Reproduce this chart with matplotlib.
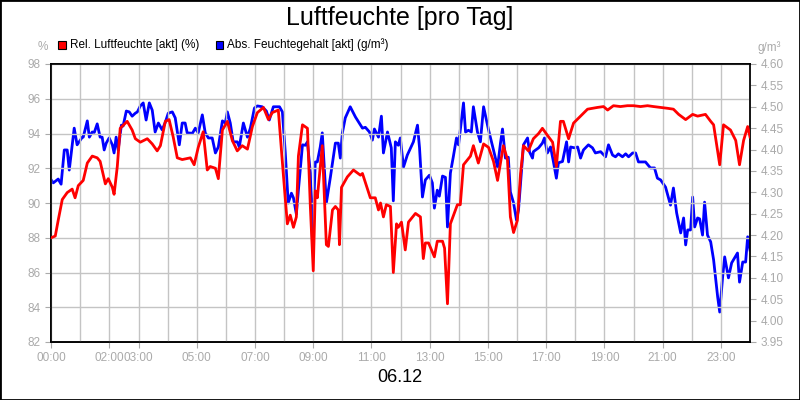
import numpy as np
import matplotlib.pyplot as plt
from matplotlib.patches import Rectangle

plt.rcParams['font.family'] = ['Liberation Sans', 'DejaVu Sans']

# ── Data (hours of day) ───────────────────────────────────────────────────────
rel_h = [0.0, 0.14, 0.24, 0.38, 0.55, 0.72, 0.82, 0.93, 1.10, 1.24, 1.41, 1.58, 1.68, 1.86, 1.96,
         2.10, 2.16, 2.27, 2.37, 2.61, 2.78, 2.89, 3.06, 3.30, 3.47, 3.64, 3.75, 3.92, 4.05, 4.19,
         4.33, 4.50, 4.78, 4.91, 5.05, 5.22, 5.36, 5.46, 5.64, 5.74, 5.88, 6.05, 6.22, 6.39, 6.56,
         6.74, 6.91, 7.08, 7.29, 7.46, 7.59, 7.80, 7.97, 8.11, 8.21, 8.32, 8.42, 8.49, 8.63, 8.80,
         8.90, 9.00, 9.07, 9.14, 9.31, 9.45, 9.52, 9.66, 9.76, 9.86, 9.90, 9.97, 10.17, 10.38,
         10.62, 10.69, 10.96, 11.13, 11.24, 11.31, 11.41, 11.51, 11.65, 11.75, 11.86, 11.92, 12.03,
         12.16, 12.27, 12.51, 12.68, 12.78, 12.85, 12.96, 13.06, 13.16, 13.26, 13.44, 13.51, 13.61,
         13.71, 13.95, 14.05, 14.16, 14.40, 14.50, 14.67, 14.85, 15.02, 15.19, 15.33, 15.53, 15.67,
         15.77, 15.88, 16.01, 16.12, 16.22, 16.39, 16.56, 16.74, 16.87, 17.04, 17.22, 17.35, 17.49,
         17.59, 17.77, 17.94, 18.18, 18.42, 18.76, 18.97, 19.11, 19.31, 19.55, 19.79, 20.0, 20.24,
         20.48, 20.69, 20.93, 21.17, 21.37, 21.55, 21.79, 22.03, 22.20, 22.47, 22.65, 22.75, 22.96,
         23.09, 23.33, 23.51, 23.64, 23.78, 23.92, 24.0]
rel_v = [88.0, 88.1, 89.0, 90.2, 90.6, 90.8, 90.3, 91.0, 91.3, 92.3, 92.7, 92.6, 92.4, 91.1, 91.4,
         90.9, 90.5, 92.1, 94.3, 94.7, 94.2, 93.7, 93.5, 93.7, 93.4, 93.0, 93.3, 94.7, 94.8, 93.8,
         92.6, 92.5, 92.6, 92.2, 93.2, 94.1, 91.9, 92.1, 92.0, 91.4, 94.2, 94.7, 93.6, 93.0, 93.3,
         93.1, 94.4, 95.2, 95.5, 94.8, 95.2, 95.35, 91.7, 88.8, 89.3, 88.6, 89.2, 92.7, 94.5, 94.3,
         89.8, 86.1, 90.7, 90.3, 93.3, 87.6, 87.5, 89.6, 89.8, 89.6, 87.6, 90.9, 91.5, 91.9,
         91.6, 91.7, 90.3, 90.3, 89.6, 90.0, 89.2, 89.9, 89.8, 86.0, 88.8, 88.6, 88.9,
         87.3, 88.9, 89.4, 89.2, 86.8, 87.7, 87.7, 87.3, 86.9, 87.8, 87.8, 87.4, 84.2,
         88.8, 89.9, 89.9, 92.2, 92.7, 93.3, 92.3, 93.4, 93.2, 92.4, 91.3, 93.3, 92.5,
         89.2, 88.3, 89.0, 91.7, 93.3, 93.0, 93.7, 94.0, 94.3, 93.9, 93.5, 92.1, 94.7,
         94.7, 93.7, 94.6, 95.0, 95.4, 95.5, 95.55, 95.35, 95.6, 95.55, 95.6, 95.6, 95.55,
         95.6, 95.55, 95.5, 95.45, 95.4, 95.1, 94.8, 95.1, 95.0, 95.1, 94.7, 94.5, 92.2,
         94.5, 94.2, 93.6, 92.2, 93.6, 94.4, 93.8]

abs_h = [0.0, 0.07, 0.24, 0.34, 0.45, 0.55, 0.62, 0.79, 0.89, 1.07, 1.10, 1.24, 1.31, 1.41, 1.48,
         1.58, 1.68, 1.75, 1.82, 1.89, 1.99, 2.10, 2.16, 2.23, 2.30, 2.41, 2.47, 2.58, 2.68, 2.78,
         2.89, 2.96, 3.06, 3.16, 3.26, 3.37, 3.47, 3.57, 3.68, 3.81, 3.92, 4.02, 4.16, 4.26, 4.40,
         4.50, 4.60, 4.67, 4.85, 4.95, 5.05, 5.19, 5.29, 5.40, 5.53, 5.64, 5.74, 5.88, 5.98, 6.05,
         6.15, 6.25, 6.39, 6.46, 6.60, 6.74, 6.84, 6.98, 7.08, 7.25, 7.39, 7.49, 7.63, 7.84, 7.94,
         8.04, 8.14, 8.25, 8.32, 8.42, 8.49, 8.63, 8.73, 8.80, 8.90, 8.97, 9.07, 9.14, 9.24, 9.31,
         9.45, 9.59, 9.76, 9.86, 9.93, 10.00, 10.10, 10.27, 10.45, 10.69, 10.79, 10.93, 11.03,
         11.10, 11.24, 11.34, 11.41, 11.55, 11.68, 11.75, 11.82, 11.92, 11.99, 12.10, 12.23,
         12.44, 12.58, 12.65, 12.75, 12.85, 12.99, 13.09, 13.16, 13.26, 13.33, 13.44, 13.54,
         13.61, 13.71, 13.81, 13.92, 13.99, 14.16, 14.23, 14.33, 14.43, 14.50, 14.64, 14.74,
         14.85, 15.02, 15.19, 15.33, 15.43, 15.50, 15.60, 15.70, 15.77, 15.88, 15.98, 16.05,
         16.22, 16.36, 16.43, 16.53, 16.56, 16.74, 16.87, 16.94, 17.04, 17.15, 17.25, 17.35,
         17.42, 17.56, 17.70, 17.77, 17.84, 17.97, 18.08, 18.18, 18.28, 18.45, 18.59, 18.69,
         18.87, 19.04, 19.14, 19.28, 19.38, 19.48, 19.62, 19.73, 19.83, 19.97, 20.07, 20.17,
         20.41, 20.58, 20.72, 20.82, 20.93, 21.10, 21.27, 21.37, 21.48, 21.62, 21.72, 21.79,
         21.86, 21.96, 22.03, 22.10, 22.20, 22.27, 22.37, 22.44, 22.54, 22.65, 22.75, 22.89,
         22.96, 23.06, 23.13, 23.26, 23.37, 23.57, 23.64, 23.75, 23.85, 23.92, 24.0]
abs_v = [4.329, 4.322, 4.331, 4.319, 4.399, 4.399, 4.352, 4.450, 4.411, 4.429, 4.429, 4.467, 4.429,
         4.441, 4.440, 4.460, 4.429, 4.429, 4.399, 4.415, 4.427, 4.411, 4.392, 4.429, 4.399, 4.457,
         4.455, 4.490, 4.488, 4.478, 4.485, 4.488, 4.502, 4.509, 4.469, 4.509, 4.492, 4.441, 4.462,
         4.446, 4.464, 4.485, 4.488, 4.474, 4.411, 4.462, 4.462, 4.439, 4.438, 4.450, 4.439, 4.481,
         4.439, 4.427, 4.427, 4.392, 4.406, 4.467, 4.462, 4.488, 4.462, 4.418, 4.418, 4.406, 4.462,
         4.429, 4.450, 4.497, 4.502, 4.500, 4.490, 4.469, 4.500, 4.500, 4.488, 4.392, 4.275, 4.298,
         4.287, 4.249, 4.305, 4.411, 4.410, 4.418, 4.345, 4.188, 4.371, 4.371, 4.406, 4.439, 4.275,
         4.336, 4.415, 4.415, 4.380, 4.439, 4.474, 4.500, 4.476, 4.450, 4.452, 4.441, 4.422, 4.448,
         4.429, 4.478, 4.392, 4.441, 4.404, 4.280, 4.418, 4.410, 4.427, 4.359, 4.387, 4.418, 4.457,
         4.404, 4.289, 4.329, 4.340, 4.322, 4.263, 4.305, 4.291, 4.338, 4.335, 4.219, 4.345, 4.383,
         4.427, 4.411, 4.509, 4.441, 4.445, 4.441, 4.500, 4.441, 4.418, 4.500, 4.446, 4.399, 4.359,
         4.415, 4.448, 4.380, 4.382, 4.301, 4.275, 4.235, 4.259, 4.411, 4.427, 4.394, 4.380, 4.395,
         4.404, 4.415, 4.427, 4.392, 4.406, 4.371, 4.333, 4.369, 4.372, 4.418, 4.371, 4.406, 4.404,
         4.406, 4.380, 4.399, 4.411, 4.404, 4.392, 4.395, 4.383, 4.411, 4.387, 4.383, 4.390, 4.383,
         4.390, 4.383, 4.392, 4.392, 4.371, 4.371, 4.357, 4.357, 4.333, 4.329, 4.312, 4.270, 4.310,
         4.252, 4.205, 4.240, 4.177, 4.212, 4.212, 4.289, 4.219, 4.240, 4.238, 4.200, 4.277, 4.200,
         4.184, 4.142, 4.055, 4.020, 4.102, 4.149, 4.100, 4.135, 4.158, 4.090, 4.137, 4.137, 4.196,
         4.165]

x_label_hours = [0, 2, 3, 5, 7, 9, 11, 13, 15, 17, 19, 21, 23]
left_ticks = list(range(82, 99, 2))
right_ticks = [round(3.95 + 0.05 * i, 2) for i in range(14)]

GRAY = '#aaaaaa'
GRID = '#c4c4c4'

# ── Plot ──────────────────────────────────────────────────────────────────────
fig = plt.figure(figsize=(8, 4), dpi=100)
fig.patches.append(Rectangle((0, 0), 1, 1, transform=fig.transFigure,
                             fill=False, edgecolor='black', linewidth=2))
ax = fig.add_axes([0.064, 0.145, 0.8735, 0.695])
ax2 = ax.twinx()

ax.set_xlim(0, 24)
ax.set_ylim(82, 98)
ax2.set_ylim(3.95, 4.60)

ax.set_xticks(x_label_hours)
ax.set_xticklabels([f'{h:02d}:00' for h in x_label_hours])
ax.set_xticks(range(25), minor=True)
ax.set_yticks(left_ticks)
ax2.set_yticks(right_ticks)
ax2.set_yticklabels([f'{v:.2f}' for v in right_ticks])

ax.grid(True, which='both', axis='x', color=GRID, linewidth=1)
ax.grid(True, which='major', axis='y', color=GRID, linewidth=1)
ax.set_axisbelow(True)

ax.tick_params(axis='both', which='both', colors=GRAY, labelcolor=GRAY, labelsize=8.5, length=4)
ax.tick_params(axis='x', which='minor', length=0)
ax2.tick_params(axis='y', colors=GRAY, labelcolor=GRAY, labelsize=8.5, length=4)

for a in (ax, ax2):
    for s in a.spines.values():
        s.set_color('black')
        s.set_linewidth(1.2)
ax2.spines['right'].set_color('#888888')

ax.plot(rel_h, rel_v, color='#ff0000', linewidth=2, zorder=3)
ax2.plot(abs_h, abs_v, color='#0000ff', linewidth=2, zorder=3)
ax.set_zorder(ax2.get_zorder() + 1)
ax.patch.set_visible(False)

fig.text(0.5, 0.955, 'Luftfeuchte [pro Tag]', ha='center', va='center', fontsize=18)
fig.text(0.5, 0.055, '06.12', ha='center', va='center', fontsize=13)
fig.text(0.053, 0.882, '%', ha='center', va='center', fontsize=8.5, color=GRAY)
fig.text(0.962, 0.882, 'g/m³', ha='center', va='center', fontsize=8.5, color=GRAY)

fig.patches.append(Rectangle((0.073, 0.878), 0.0095, 0.019, transform=fig.transFigure,
                             facecolor='#ff0000', edgecolor='black', linewidth=0.8))
fig.text(0.087, 0.888, 'Rel. Luftfeuchte [akt] (%)', va='center', fontsize=8.5)
fig.patches.append(Rectangle((0.2695, 0.878), 0.0095, 0.019, transform=fig.transFigure,
                             facecolor='#0000ff', edgecolor='black', linewidth=0.8))
fig.text(0.284, 0.888, 'Abs. Feuchtegehalt [akt] (g/m³)', va='center', fontsize=8.5)

fig.savefig('out.png', dpi=100)
